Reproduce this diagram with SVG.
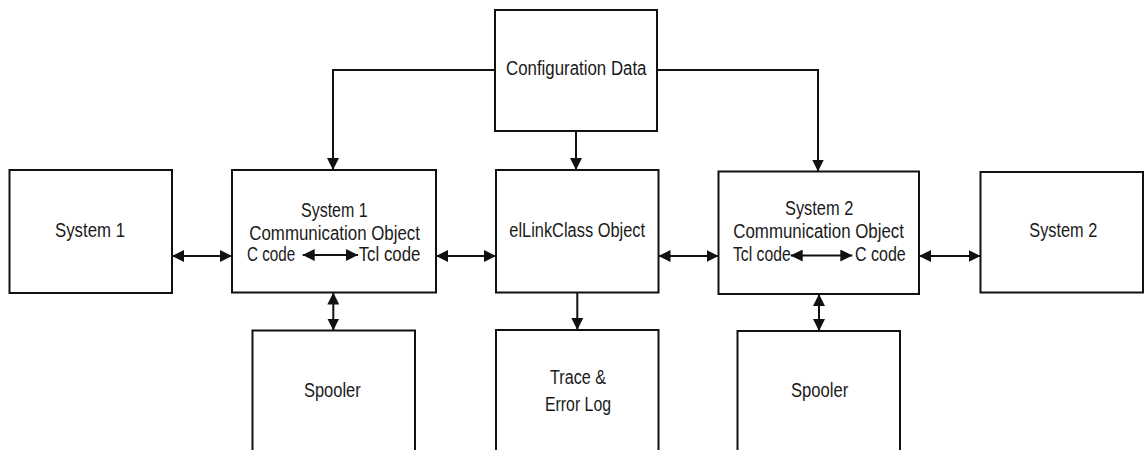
<svg xmlns="http://www.w3.org/2000/svg" width="1145" height="450" viewBox="0 0 1145 450">
  <style>
    .box { fill: #ffffff; stroke: #111111; stroke-width: 2; }
    .lbl { font-family: "Liberation Sans", Arial, sans-serif; font-size: 20px; fill: #1a1a1a; }
    .wire { fill: none; stroke: #111111; stroke-width: 2; }
  </style>
  <defs>
    <marker id="head" viewBox="0 0 12 12" refX="12" refY="6" markerWidth="12" markerHeight="12" markerUnits="userSpaceOnUse" orient="auto-start-reverse">
      <path d="M0,0 L12,6 L0,12 z" fill="#111111"/>
    </marker>
  </defs>

  <rect width="1145" height="450" fill="#ffffff"/>

  <g id="config-data">
    <rect class="box" x="495" y="10" width="162" height="121"/>
    <text class="lbl" x="506" y="74.5" textLength="140.5" lengthAdjust="spacingAndGlyphs">Configuration Data</text>
  </g>

  <g id="system1">
    <rect class="box" x="9.5" y="170" width="162.5" height="123"/>
    <text class="lbl" x="55" y="236.7" textLength="70" lengthAdjust="spacingAndGlyphs">System 1</text>
  </g>

  <g id="comm-object-1">
    <rect class="box" x="232" y="170" width="204" height="122.5"/>
    <text class="lbl" x="301" y="216.8" textLength="66.7" lengthAdjust="spacingAndGlyphs">System 1</text>
    <text class="lbl" x="249.3" y="239.5" textLength="170.7" lengthAdjust="spacingAndGlyphs">Communication Object</text>
    <text class="lbl" x="247" y="260.5" textLength="48.3" lengthAdjust="spacingAndGlyphs">C code</text>
    <text class="lbl" x="358.7" y="260.5" textLength="61.7" lengthAdjust="spacingAndGlyphs">Tcl code</text>
  </g>

  <g id="elink-object">
    <rect class="box" x="496" y="170" width="162.5" height="122.5"/>
    <text class="lbl" x="509.3" y="237" textLength="135.7" lengthAdjust="spacingAndGlyphs">elLinkClass Object</text>
  </g>

  <g id="comm-object-2">
    <rect class="box" x="718.5" y="171.5" width="200.5" height="122.5"/>
    <text class="lbl" x="785" y="215" textLength="68.3" lengthAdjust="spacingAndGlyphs">System 2</text>
    <text class="lbl" x="733.3" y="238.3" textLength="170.7" lengthAdjust="spacingAndGlyphs">Communication Object</text>
    <text class="lbl" x="733" y="260.5" textLength="57.7" lengthAdjust="spacingAndGlyphs">Tcl code</text>
    <text class="lbl" x="855" y="260.5" textLength="50.7" lengthAdjust="spacingAndGlyphs">C code</text>
  </g>

  <g id="system2">
    <rect class="box" x="980.5" y="172" width="162.5" height="120.5"/>
    <text class="lbl" x="1029.3" y="236.7" textLength="68" lengthAdjust="spacingAndGlyphs">System 2</text>
  </g>

  <g id="spooler1">
    <rect class="box" x="252.5" y="330.5" width="162.5" height="140"/>
    <text class="lbl" x="304" y="397.3" textLength="56.7" lengthAdjust="spacingAndGlyphs">Spooler</text>
  </g>

  <g id="trace-log">
    <rect class="box" x="496" y="330" width="162.5" height="140"/>
    <text class="lbl" x="550" y="384" textLength="56" lengthAdjust="spacingAndGlyphs">Trace &amp;</text>
    <text class="lbl" x="545" y="410.7" textLength="66" lengthAdjust="spacingAndGlyphs">Error Log</text>
  </g>

  <g id="spooler2">
    <rect class="box" x="737.5" y="331" width="162.5" height="140"/>
    <text class="lbl" x="791" y="397.3" textLength="57.3" lengthAdjust="spacingAndGlyphs">Spooler</text>
  </g>

  <!-- connectors, drawn over the boxes so the in-box code links stay visible -->
  <g id="connectors">
    <path class="wire" d="M495,70 H333 V170" marker-end="url(#head)"/>
    <path class="wire" d="M657,70 H818 V171.5" marker-end="url(#head)"/>
    <path class="wire" d="M576,131 V170" marker-end="url(#head)"/>
    <path class="wire" d="M172,256 H232" marker-start="url(#head)" marker-end="url(#head)"/>
    <path class="wire" d="M436,256 H496" marker-start="url(#head)" marker-end="url(#head)"/>
    <path class="wire" d="M658.5,256 H718.5" marker-start="url(#head)" marker-end="url(#head)"/>
    <path class="wire" d="M919,256 H980.5" marker-start="url(#head)" marker-end="url(#head)"/>
    <path class="wire" d="M302.7,255 H358" marker-start="url(#head)" marker-end="url(#head)"/>
    <path class="wire" d="M790.7,255.5 H852.3" marker-start="url(#head)" marker-end="url(#head)"/>
    <path class="wire" d="M333.3,292.5 V330.5" marker-start="url(#head)" marker-end="url(#head)"/>
    <path class="wire" d="M577.3,292.5 V330" marker-end="url(#head)"/>
    <path class="wire" d="M819,294 V331" marker-start="url(#head)" marker-end="url(#head)"/>
  </g>
</svg>
